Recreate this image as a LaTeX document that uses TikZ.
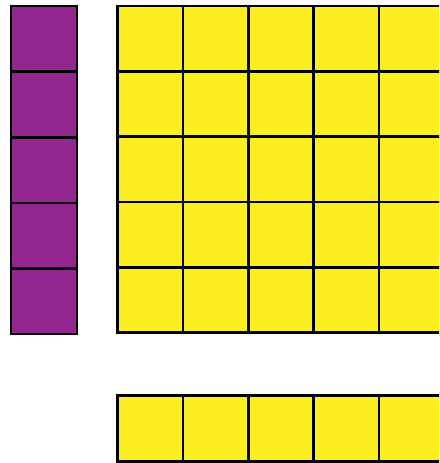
\documentclass[tikz,border=0pt]{standalone}
\definecolor{purp}{HTML}{92278F}
\definecolor{yel}{HTML}{FDEE21}
\begin{document}
\begin{tikzpicture}[x=1pt,y=-1pt,
  pcell/.style={draw=black,fill=purp,line width=2.6pt},
  ycell/.style={draw=black,fill=yel,line width=2.6pt}]
\useasboundingbox (0,0) rectangle (439,463);
\clip (0,0) rectangle (439,463);
\foreach \r in {0,...,4} {
  \path[pcell] (11,{6+65.6*\r}) rectangle (77,{6+65.6*(\r+1)});
}
\foreach \r in {0,...,4} {
  \foreach \c in {0,...,4} {
    \path[ycell] ({117.5+65.4*\c},{6+65.3*\r}) rectangle ({117.5+65.4*(\c+1)+(\c==4)*10},{6+65.3*(\r+1)});
  }
}
\foreach \c in {0,...,4} {
  \path[ycell] ({117.5+65.4*\c},395.5) rectangle ({117.5+65.4*(\c+1)+(\c==4)*10},461.5);
}
\end{tikzpicture}
\end{document}
